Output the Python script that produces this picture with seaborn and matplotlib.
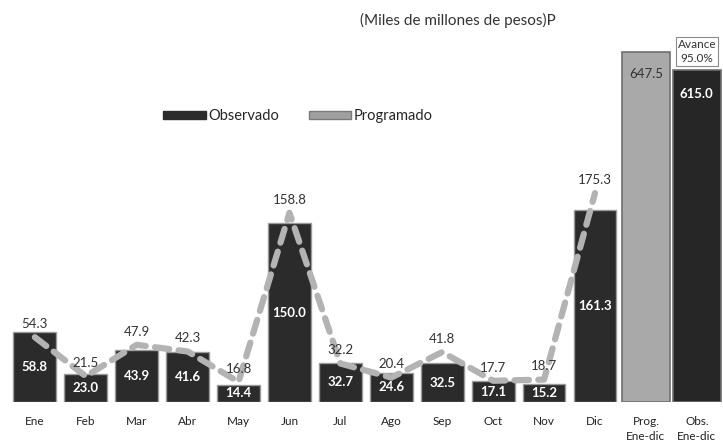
import numpy as np
import pandas as pd
import matplotlib
matplotlib.use("Agg")
import matplotlib.pyplot as plt
import seaborn as sns
from matplotlib.patches import Patch

# Monthly data (miles de millones de pesos)
months = ["Ene", "Feb", "Mar", "Abr", "May", "Jun", "Jul", "Ago", "Sep", "Oct", "Nov", "Dic"]
observado = [58.8, 23.0, 43.9, 41.6, 14.4, 150.0, 32.7, 24.6, 32.5, 17.1, 15.2, 161.3]
programado = [54.3, 21.5, 47.9, 42.3, 16.8, 158.8, 32.2, 20.4, 41.8, 17.7, 18.7, 175.3]

# Annual totals
total_labels = ["Prog.\nEne-dic", "Obs.\nEne-dic"]
total_values = [647.5, 615.0]
avance_text = "Avance\n95.0%"

all_labels = months + total_labels

sns.set_theme(style="white")
plt.rcParams["font.family"] = ["Lato", "DejaVu Sans"]

fig = plt.figure(figsize=(7.23, 4.48), dpi=100)
ax = fig.add_axes([0.013, 0.103, 0.986, 0.808])

dark = "#2b2b2b"
light = "#a9a9a9"

df_m = pd.DataFrame({"mes": months, "obs": observado})
sns.barplot(data=df_m, x="mes", y="obs", order=all_labels, color=dark,
            width=0.84, edgecolor="#9a9a9a", linewidth=1.0, saturation=1, ax=ax)

# programmed line
sns.lineplot(x=np.arange(len(months)), y=programado, ax=ax, color="#b3b3b3",
             linewidth=4.5, legend=False)
ax.lines[-1].set_dashes((2.3, 1.5))
ax.lines[-1].set_dash_capstyle("round")

ax.set_ylim(0, 304)
ax.set_xlim(-0.5, len(all_labels) - 0.5)

for i, (o, p) in enumerate(zip(observado, programado)):
    ax.text(i, o / 2, f"{o:.1f}", ha="center", va="center", color="white",
            fontsize=9.5, fontweight="bold")
    ax.text(i, p + 6, f"{p:.1f}", ha="center", va="bottom", color="#333333",
            fontsize=9.5)

# totals on their own scale
ax2 = ax.twinx()
df_t = pd.DataFrame({"tot": total_labels, "val": total_values})
sns.barplot(data=df_t, x="tot", y="val", order=all_labels, hue="tot",
            palette=[light, "#262626"], width=0.95, edgecolor="#6f6f6f",
            linewidth=1.2, saturation=1, legend=False, ax=ax2)
ax2.set_ylim(0, 670)
ax2.text(12, total_values[0] - 40, f"{total_values[0]:.1f}", ha="center",
         va="center", color="#333333", fontsize=9.5)
ax2.text(13, total_values[1] - 45, f"{total_values[1]:.1f}", ha="center",
         va="center", color="white", fontsize=9.5, fontweight="bold")
ax2.text(13, total_values[1] + 10, avance_text, ha="center", va="bottom",
         color="#333333", fontsize=8.5, linespacing=1.35,
         bbox=dict(boxstyle="square,pad=0.15", fc="white", ec="#8a8a8a", lw=0.8))
ax2.set_yticks([])
ax2.set_ylabel("")

ax.set_xticks(range(len(all_labels)))
ax.set_xticklabels(all_labels, fontsize=8.5, color="#222222", linespacing=1.45, va="top")
ax.tick_params(axis="x", length=0, pad=10)
ax.set_yticks([])
ax.set_xlabel("")
ax.set_ylabel("")
for a in (ax, ax2):
    for s in a.spines.values():
        s.set_visible(False)

handles = [Patch(facecolor=dark, edgecolor=dark, label="Observado"),
           Patch(facecolor="#a0a0a0", edgecolor="#7a7a7a", label="Programado")]
ax.legend(handles=handles, loc="center", bbox_to_anchor=(0.405, 0.79), ncol=2,
          frameon=False, fontsize=10.5, handlelength=2.9, handleheight=0.45,
          columnspacing=2.0, handletextpad=0.2)

fig.text(0.633, 0.955, "(Miles de millones de pesos)P", ha="center", va="center",
         fontsize=11, color="#333333")

fig.savefig("out.png", dpi=100)
